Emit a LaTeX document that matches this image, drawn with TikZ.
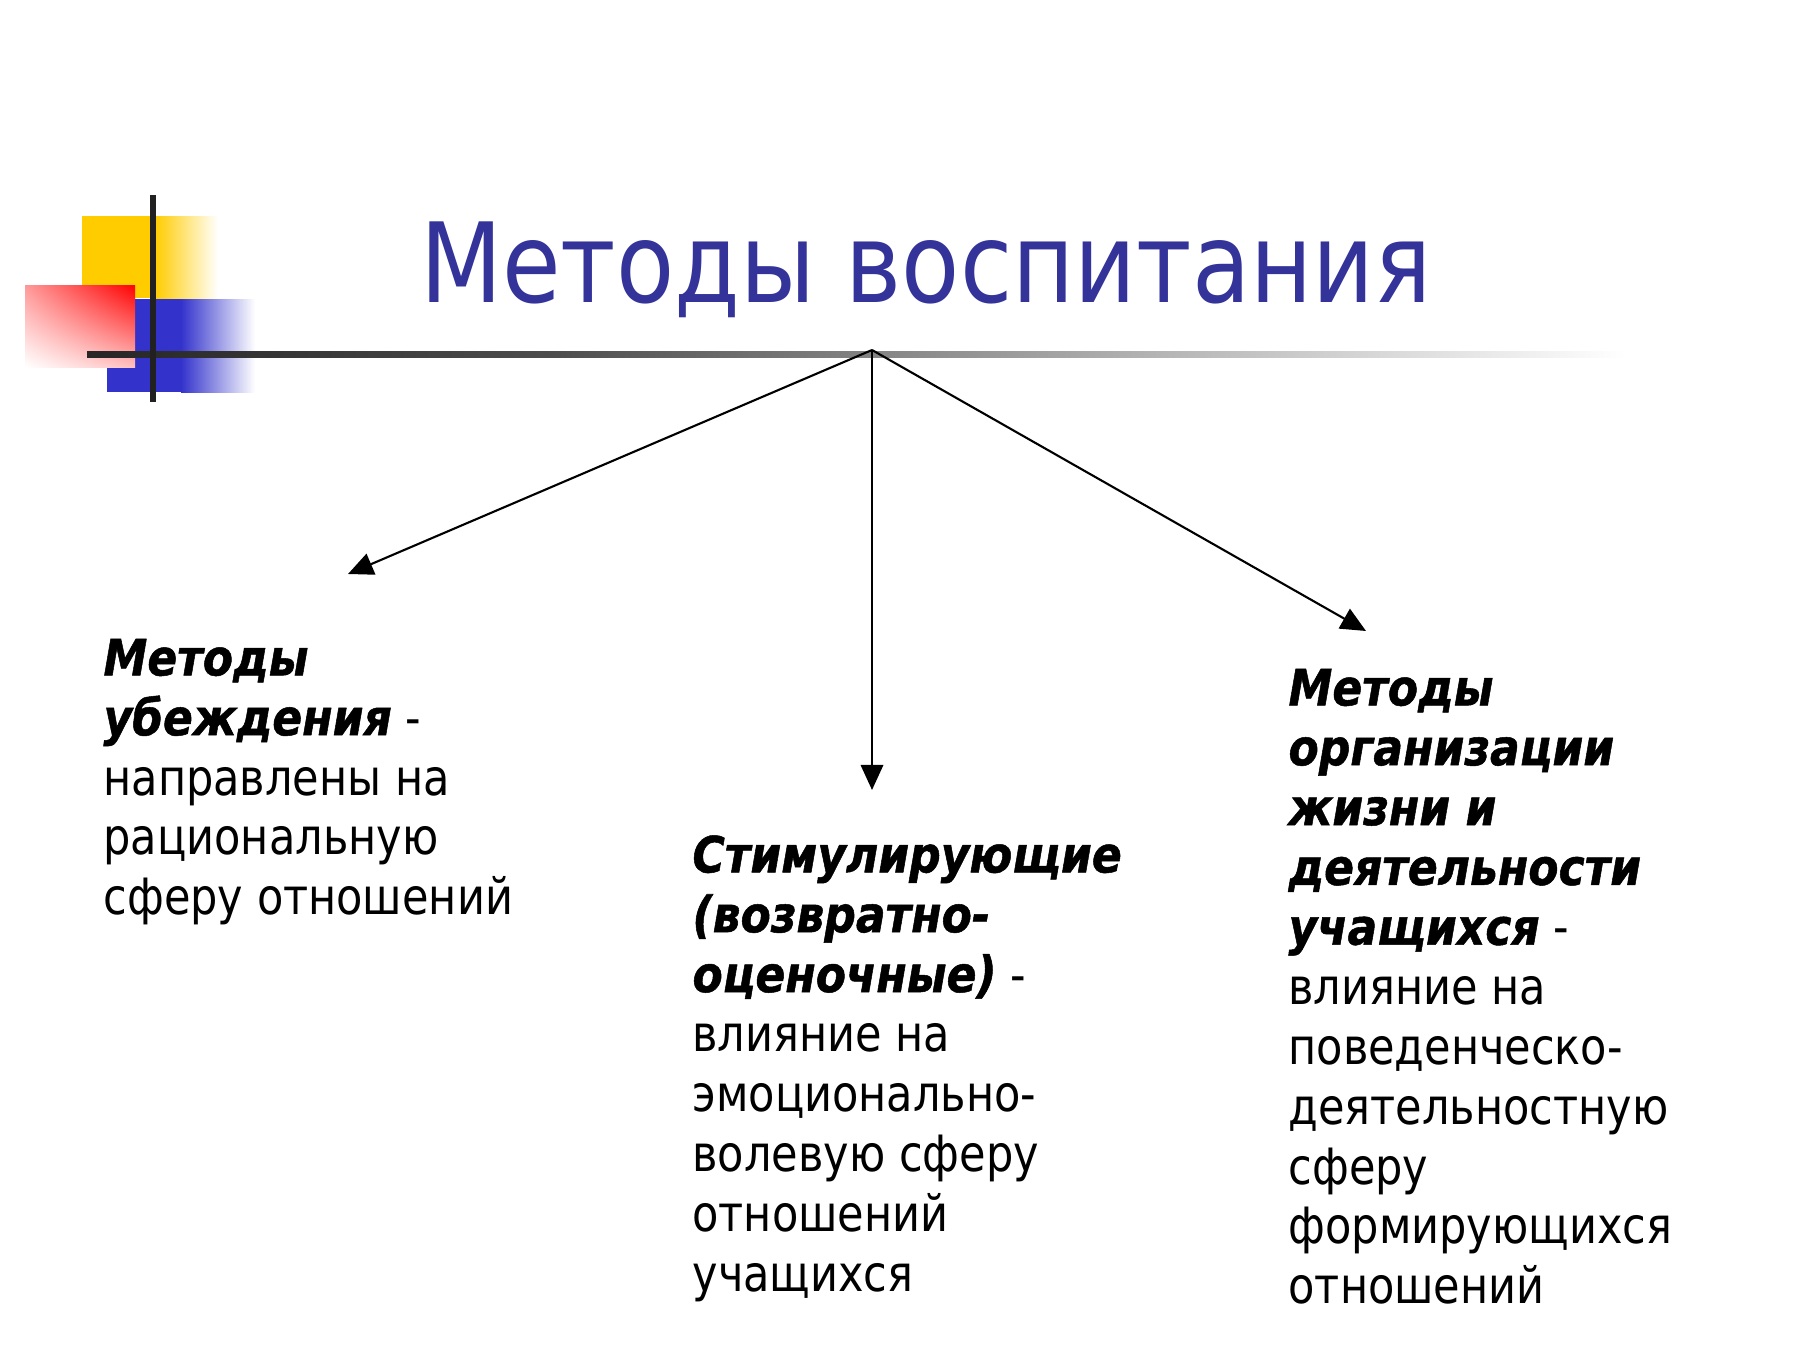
\documentclass[tikz,border=0pt]{standalone}
\usepackage{fontspec}
\setmainfont{DejaVu Sans}[FakeStretch=0.86,BoldItalicFeatures={FakeStretch=0.88,FakeBold=1}]
\usetikzlibrary{arrows.meta,shadings}

\definecolor{titleblue}{RGB}{51,51,153}
\definecolor{slideyellow}{RGB}{255,204,0}
\definecolor{slideblue}{RGB}{51,51,204}
\pgfdeclarehorizontalshading{barfade}{100bp}{color(0bp)=(black!85); color(25bp)=(black!85); color(40bp)=(black!70); color(58bp)=(black!33); color(75bp)=(white); color(100bp)=(white)}
\newcommand{\bhead}[1]{\textbf{\textit{#1}}}

\begin{document}
\begin{tikzpicture}[x=0.013333cm,y=-0.013333cm,
  arr/.style={line width=0.8pt,-{Triangle[length=9.5pt,width=8.5pt]}},
  blocktext/.style={anchor=north west,inner sep=0pt,align=left,
    font=\fontsize{19}{22.7}\selectfont}]
\useasboundingbox (0,0) rectangle (1800,1350);
\fill[white] (0,0) rectangle (1800,1350);

% corner squares
\fill[slideyellow] (82,216) rectangle (156,298);
\shade[left color=slideyellow,right color=white] (155,216) rectangle (218,298);
\fill[slideblue] (107,299) rectangle (182,392);
\shade[left color=slideblue,right color=white] (181,299) rectangle (255,392);
\shade[upper right=red,lower left=white,upper left=red!40,lower right=red!25] (25,285) rectangle (135,367);
\shade[shading=barfade] (87,351) rectangle (1625,357);
\fill[black!87] (150,195) rectangle (156,402);

\node[anchor=base,inner sep=0pt,text=titleblue,font=\fontsize{42}{50}\selectfont] (title) at (926,302) {Методы воспитания};

\coordinate (apex) at (872,350);
\coordinate (tipA) at (348,574);
\coordinate (tipB) at (872,790);
\coordinate (tipC) at (1366,631);

\draw[arr] (apex) -- (tipA);
\draw[arr] (apex) -- (tipB);
\draw[arr] (apex) -- (tipC);

\node[blocktext] (persuade) at (103,633) {\strut\bhead{Методы}\\
\bhead{убеждения} -\\
направлены на\\
рациональную\\
сферу отношений};

\node[blocktext] (stimul) at (692,830) {\strut\bhead{Стимулирующие}\\
\bhead{(возвратно-}\\
\bhead{оценочные)} -\\
влияние на\\
эмоционально-\\
волевую сферу\\
отношений\\
учащихся};

\node[blocktext] (organize) at (1288,663) {\strut\bhead{Методы}\\
\bhead{организации}\\
\bhead{жизни и}\\
\bhead{деятельности}\\
\bhead{учащихся} -\\
влияние на\\
поведенческо-\\
деятельностную\\
сферу\\
формирующихся\\
отношений};

\end{tikzpicture}
\end{document}
